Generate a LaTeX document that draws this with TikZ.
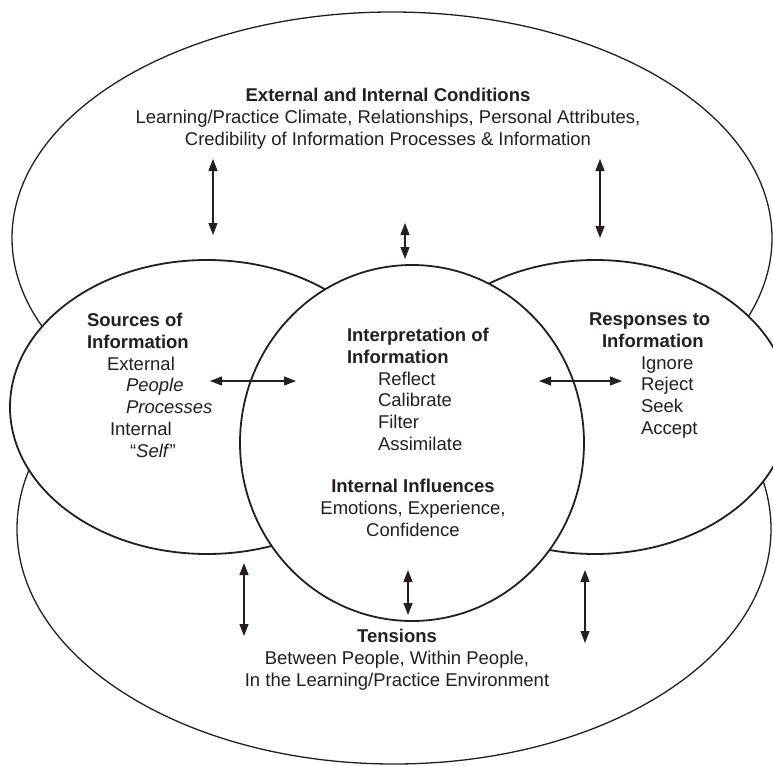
\documentclass[tikz,border=0pt]{standalone}
\usepackage{fontspec}
\setmainfont{Liberation Sans}
\usetikzlibrary{shapes.geometric, arrows.meta}
\definecolor{ink}{RGB}{35,31,32}
\begin{document}
\begin{tikzpicture}[x=1pt,y=-1pt,
  bigell/.style={ellipse, draw=ink, fill=white, line width=1.3pt, inner sep=0pt, outer sep=0pt},
  circ/.style={ellipse, draw=ink, fill=white, line width=1.8pt, inner sep=0pt, outer sep=0pt},
  lbl/.style={inner sep=0pt, outer sep=0pt, text=ink, font=\fontsize{18.5}{21.7}\selectfont},
  tip/.tip={Triangle[length=12pt 0, width=9pt 0]},
  dbl/.style={tip-tip, line width=1.2pt, draw=ink},
]
\useasboundingbox (0,0) rectangle (773,765);

% shapes
\node[bigell, minimum width=760pt, minimum height=452pt] (top) at (392,238) {};
\node[bigell, minimum width=754pt, minimum height=470pt] (bot) at (394,529) {};
\node[circ, minimum width=394pt, minimum height=294pt] (left) at (207,407) {};
\node[circ, minimum width=390pt, minimum height=294pt] (right) at (595,407) {};
\node[circ, minimum width=344pt, minimum height=356pt] (mid) at (412,443) {};

% texts
\node[lbl, anchor=north, align=center] (ttop) at (388,86.7)
  {\strut\textbf{External and Internal Conditions}\\
   Learning/Practice Climate, Relationships, Personal Attributes,\\
   Credibility of Information Processes \& Information};

\node[lbl, anchor=north west, align=left] (tsrc) at (87,311.7)
  {\strut\textbf{Sources of}\\
   \textbf{Information}\\
   \hspace*{20pt}External\\
   \hspace*{39pt}\textit{People}\\
   \hspace*{39pt}\textit{Processes}\\
   \hspace*{23pt}Internal\\
   \hspace*{43pt}“\textit{Self}”};

\node[lbl, anchor=north west, align=left] (tint) at (347,326.7)
  {\strut\textbf{Interpretation of}\\
   \textbf{Information}\\
   \hspace*{31pt}Reflect\\
   \hspace*{31pt}Calibrate\\
   \hspace*{31pt}Filter\\
   \hspace*{31pt}Assimilate};

\node[lbl, anchor=north, align=center] (tinf) at (413,477.7)
  {\strut\textbf{Internal Influences}\\
   Emotions, Experience,\\
   Confidence};

\node[lbl, anchor=north west, align=left] (tres) at (589,310.7)
  {\strut\textbf{Responses to}\\
   \hspace*{13pt}\textbf{Information}\\
   \hspace*{52pt}Ignore\\
   \hspace*{52pt}Reject\\
   \hspace*{52pt}Seek\\
   \hspace*{52pt}Accept};

\node[lbl, anchor=north, align=center] (tten) at (397,627.7)
  {\strut\textbf{Tensions}\\
   Between People, Within People,\\
   In the Learning/Practice Environment};

% arrow end points
\coordinate (a1t) at (213,159); \coordinate (a1b) at (213,235);
\coordinate (a2t) at (405,223); \coordinate (a2b) at (405,259);
\coordinate (a3t) at (600,159); \coordinate (a3b) at (600,238);
\coordinate (h1l) at (210,381); \coordinate (h1r) at (296,381);
\coordinate (h2l) at (539,381); \coordinate (h2r) at (622,381);
\coordinate (b1t) at (244,563); \coordinate (b1b) at (244,636);
\coordinate (b2t) at (408,570); \coordinate (b2b) at (408,615);
\coordinate (b3t) at (585,570); \coordinate (b3b) at (585,643);

\draw[dbl] (a1t) -- (a1b);
\draw[dbl] (a2t) -- (a2b);
\draw[dbl] (a3t) -- (a3b);
\draw[dbl] (h1l) -- (h1r);
\draw[dbl] (h2l) -- (h2r);
\draw[dbl] (b1t) -- (b1b);
\draw[dbl] (b2t) -- (b2b);
\draw[dbl] (b3t) -- (b3b);
\end{tikzpicture}
\end{document}
